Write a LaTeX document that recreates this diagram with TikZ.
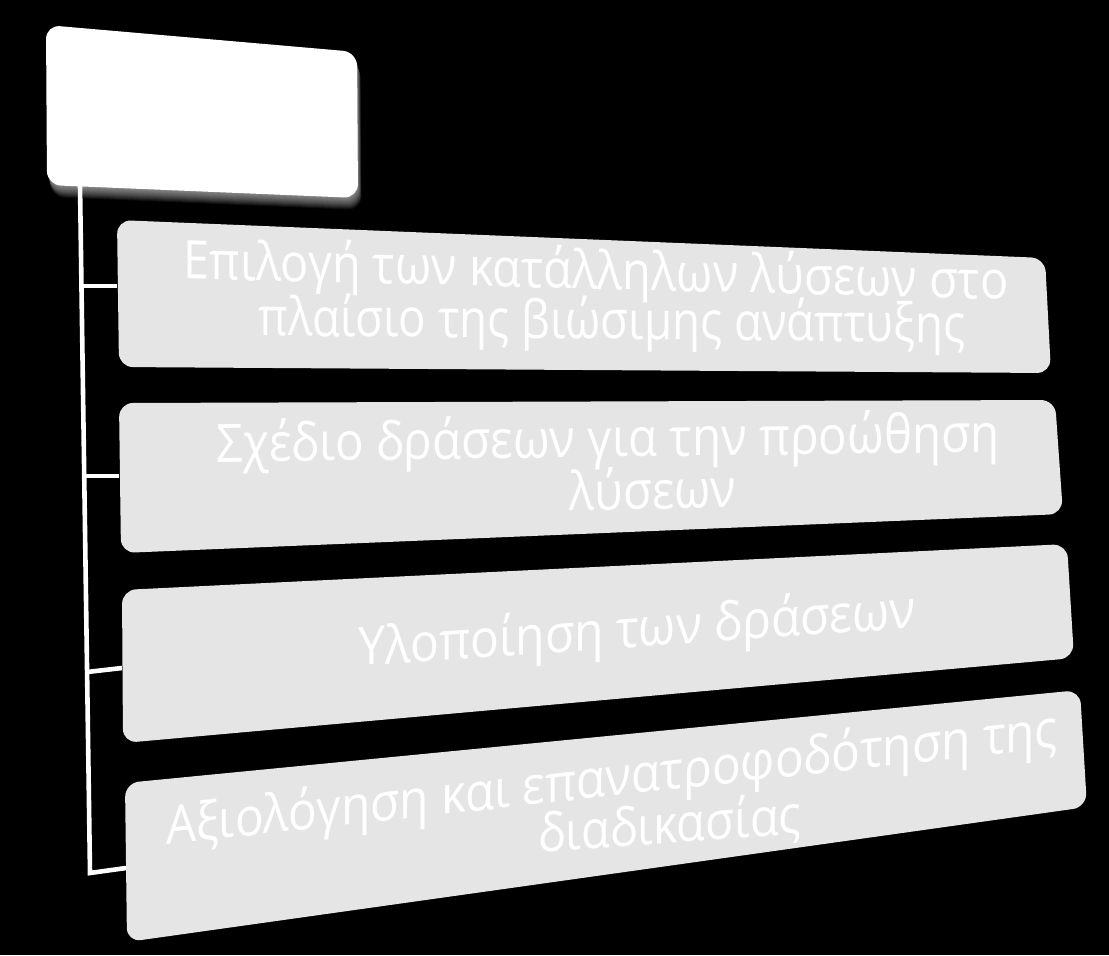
\documentclass[tikz,border=0pt]{standalone}
\usepackage{fontspec}
\setmainfont{Open Sans}
\definecolor{boxgray}{HTML}{E5E5E5}
\begin{document}
\begin{tikzpicture}[x=0.5pt,y=-0.5pt,
  boxfill/.style={fill=boxgray, rounded corners=7pt},
  topbox/.style={fill=white, rounded corners=7pt},
  linetext/.style={text=white, inner sep=0pt, anchor=base, font=\fontsize{26.5}{32}\selectfont},
  conn/.style={draw=white, line width=2.3pt, line join=miter}]
\useasboundingbox (0,0) rectangle (1109,955);
\fill[black] (0,0) rectangle (1109,955);
% top box with soft shadow
\foreach \d in {1,...,12}{
  \fill[white, opacity=0.06, rounded corners=7pt] (46+0.3*\d,25+\d) -- (357+0.3*\d,52+\d) -- (358+0.3*\d,198+\d) -- (47+0.3*\d,185+\d) -- cycle;
}
\path[topbox] (46,25) -- (357,52) -- (358,198) -- (47,185) -- cycle;
% four boxes
\path[boxfill] (117,220) -- (1045,258) -- (1051,373) -- (119,367) -- cycle;
\path[boxfill] (119,403) -- (1055,400) -- (1063,514) -- (121,553) -- cycle;
\path[boxfill] (122,590) -- (1067,544) -- (1074,658) -- (123,743) -- cycle;
\path[boxfill] (125,783) -- (1080,690) -- (1087,807) -- (127,942) -- cycle;
% connectors
\coordinate (trunkTop) at (80,185);
\coordinate (j1) at (81.5,286);
\coordinate (j2) at (84.2,476);
\coordinate (j3) at (87.1,672);
\coordinate (j4) at (90,873);
\coordinate (b1) at (117,286);
\coordinate (b2) at (119,476);
\coordinate (b3) at (122,668);
\coordinate (b4) at (126,868);
\draw[conn] (trunkTop) -- (j4) -- (b4);
\draw[conn] (j1) -- (b1);
\draw[conn] (j2) -- (b2);
\draw[conn] (j3) -- (b3);
% texts
\node[linetext, yslant=-0.025, xscale=0.885] (t1a) at (596,289) {Επιλογή των κατάλληλων λύσεων στο};
\node[linetext, yslant=-0.01, xscale=0.86] (t1b) at (612,339) {πλαίσιο της βιώσιμης ανάπτυξης};
\node[linetext, yslant=0.013, xscale=0.895] (t2a) at (608,457) {Σχέδιο δράσεων για την προώθηση};
\node[linetext, yslant=0.02, xscale=0.885] (t2b) at (653,509) {λύσεων};
\node[linetext, yslant=0.068, xscale=0.905] (t3) at (637,647) {Υλοποίηση των δράσεων};
\node[linetext, yslant=0.109, xscale=0.9] (t4a) at (612,796) {Αξιολόγηση και επανατροφοδότηση της};
\node[linetext, yslant=0.075, xscale=0.885] (t4b) at (670,843) {διαδικασίας};
\end{tikzpicture}
\end{document}
